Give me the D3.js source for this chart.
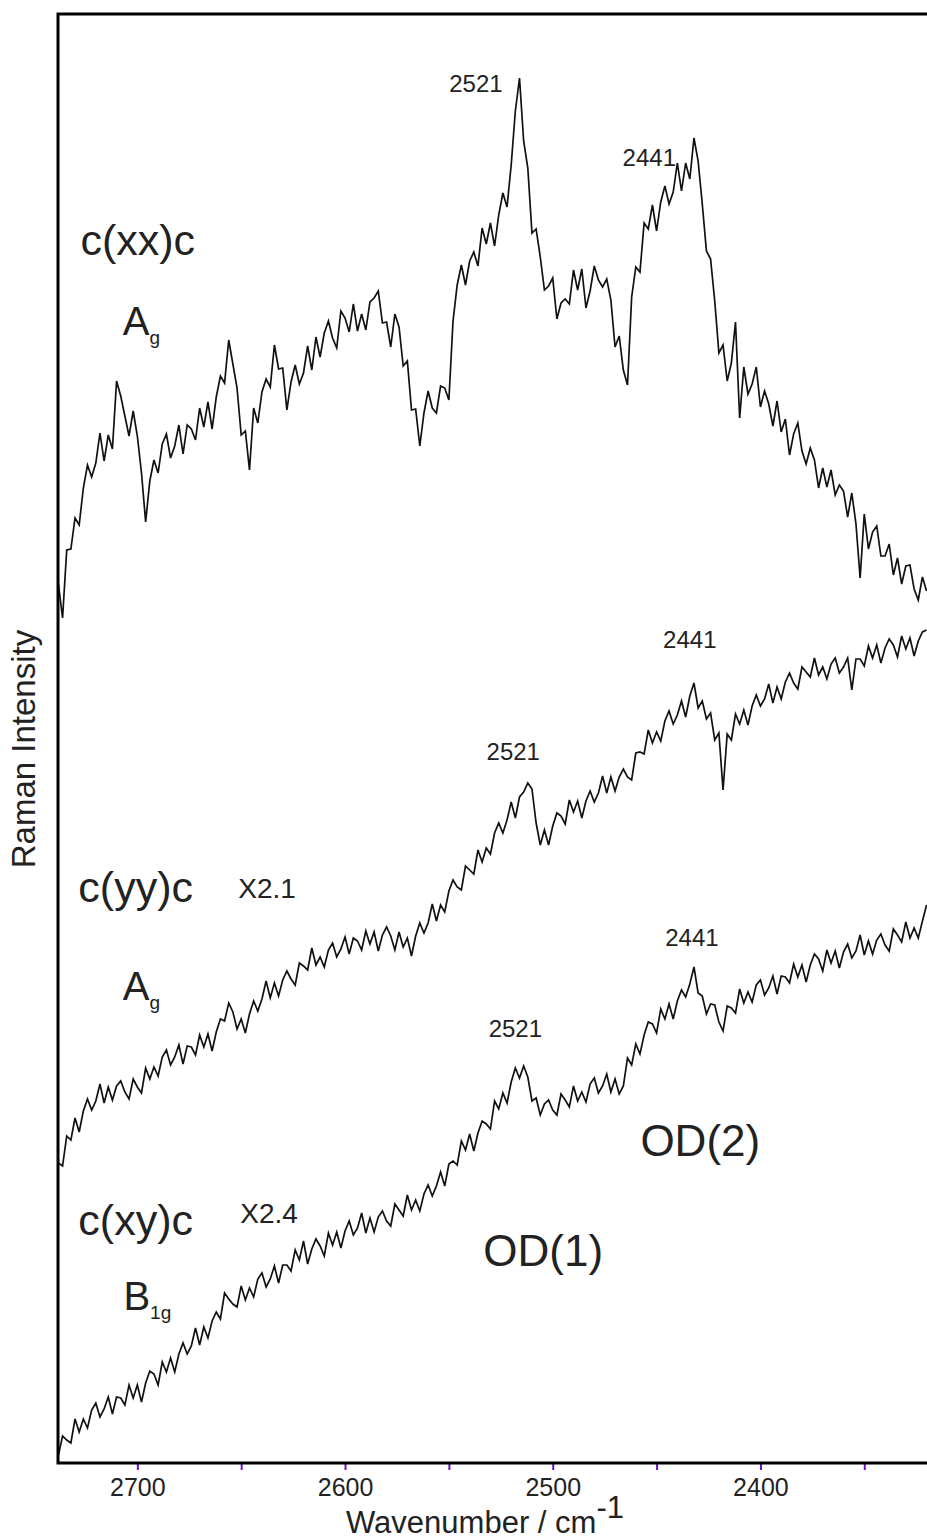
<!DOCTYPE html>
<html>
<head>
<meta charset="utf-8">
<script src="https://cdn.jsdelivr.net/npm/d3@7"></script>
<style>
  body { margin: 0; background: #fff; }
  svg { display: block; font-family: "Liberation Sans", Arial, Helvetica, sans-serif; }
</style>
</head>
<body>
<svg id="chart"></svg>
<script>
// Wavenumber grid (cm-1), high to low as in the spectrum
const wavenumbers = [
  2738, 2736, 2734, 2732, 2730, 2728, 2726, 2724, 2722, 2720,
  2718, 2716, 2714, 2712, 2710, 2708, 2706, 2704, 2702, 2700,
  2698, 2696, 2694, 2692, 2690, 2688, 2686, 2684, 2682, 2680,
  2678, 2676, 2674, 2672, 2670, 2668, 2666, 2664, 2662, 2660,
  2658, 2656, 2654, 2652, 2650, 2648, 2646, 2644, 2642, 2640,
  2638, 2636, 2634, 2632, 2630, 2628, 2626, 2624, 2622, 2620,
  2618, 2616, 2614, 2612, 2610, 2608, 2606, 2604, 2602, 2600,
  2598, 2596, 2594, 2592, 2590, 2588, 2586, 2584, 2582, 2580,
  2578, 2576, 2574, 2572, 2570, 2568, 2566, 2564, 2562, 2560,
  2558, 2556, 2554, 2552, 2550, 2548, 2546, 2544, 2542, 2540,
  2538, 2536, 2534, 2532, 2530, 2528, 2526, 2524, 2522, 2520,
  2518, 2516, 2514, 2512, 2510, 2508, 2506, 2504, 2502, 2500,
  2498, 2496, 2494, 2492, 2490, 2488, 2486, 2484, 2482, 2480,
  2478, 2476, 2474, 2472, 2470, 2468, 2466, 2464, 2462, 2460,
  2458, 2456, 2454, 2452, 2450, 2448, 2446, 2444, 2442, 2440,
  2438, 2436, 2434, 2432, 2430, 2428, 2426, 2424, 2422, 2420,
  2418, 2416, 2414, 2412, 2410, 2408, 2406, 2404, 2402, 2400,
  2398, 2396, 2394, 2392, 2390, 2388, 2386, 2384, 2382, 2380,
  2378, 2376, 2374, 2372, 2370, 2368, 2366, 2364, 2362, 2360,
  2358, 2356, 2354, 2352, 2350, 2348, 2346, 2344, 2342, 2340,
  2338, 2336, 2334, 2332, 2330, 2328, 2326, 2324, 2322, 2320
];

// c(xx)c, Ag  (offset, arbitrary units)
const xxIntensity = [
  879, 845, 913, 914, 945, 938, 975, 998, 986, 1000,
  1030, 1002, 1028, 1014, 1082, 1067, 1047, 1027, 1052, 1027,
  990, 941, 982, 1003, 990, 1019, 1029, 1005, 1017, 1038,
  1009, 1038, 1034, 1023, 1055, 1036, 1061, 1034, 1066, 1087,
  1080, 1123, 1099, 1075, 1028, 1032, 993, 1055, 1040, 1071,
  1084, 1076, 1118, 1094, 1095, 1053, 1081, 1098, 1079, 1090,
  1117, 1093, 1126, 1106, 1130, 1142, 1125, 1115, 1152, 1145,
  1131, 1159, 1132, 1149, 1133, 1161, 1165, 1172, 1140, 1141,
  1116, 1149, 1136, 1097, 1102, 1053, 1054, 1017, 1050, 1072,
  1055, 1050, 1077, 1075, 1063, 1142, 1178, 1198, 1178, 1202,
  1211, 1197, 1235, 1219, 1240, 1217, 1248, 1270, 1256, 1298,
  1352, 1385, 1322, 1295, 1230, 1234, 1206, 1173, 1177, 1185,
  1144, 1160, 1164, 1159, 1193, 1173, 1194, 1155, 1172, 1197,
  1183, 1176, 1184, 1163, 1116, 1127, 1093, 1078, 1166, 1196,
  1191, 1240, 1234, 1258, 1232, 1261, 1277, 1259, 1271, 1300,
  1272, 1300, 1284, 1325, 1302, 1259, 1212, 1204, 1162, 1110,
  1118, 1082, 1100, 1141, 1045, 1096, 1069, 1079, 1096, 1056,
  1072, 1059, 1037, 1062, 1031, 1044, 1008, 1029, 1040, 1012,
  999, 1015, 1003, 975, 995, 976, 993, 968, 978, 972,
  946, 970, 939, 885, 949, 914, 931, 937, 907, 907,
  919, 888, 905, 879, 897, 898, 874, 863, 886, 872
];

// c(yy)c, Ag, x2.1
const yyIntensity = [
  300, 297, 327, 323, 345, 331, 352, 364, 353, 362,
  379, 360, 376, 363, 377, 382, 371, 364, 384, 376,
  370, 395, 384, 396, 387, 406, 413, 398, 406, 418,
  399, 417, 416, 408, 428, 416, 429, 412, 431, 444,
  442, 460, 451, 434, 444, 430, 449, 462, 452, 464,
  482, 465, 480, 467, 483, 492, 484, 478, 500, 497,
  493, 515, 498, 506, 496, 513, 520, 506, 514, 526,
  509, 525, 522, 513, 532, 519, 531, 512, 528, 536,
  527, 513, 531, 516, 525, 507, 527, 540, 530, 540,
  559, 542, 558, 551, 572, 583, 576, 573, 597, 593,
  589, 613, 601, 615, 609, 630, 640, 630, 643, 661,
  645, 666, 671, 680, 674, 640, 618, 633, 618, 637,
  650, 647, 639, 663, 651, 662, 645, 662, 672, 661,
  670, 687, 670, 686, 672, 686, 694, 686, 683, 710,
  711, 709, 733, 720, 731, 722, 742, 752, 739, 748,
  762, 746, 767, 780, 755, 762, 744, 750, 723, 730,
  673, 729, 723, 749, 739, 753, 738, 757, 768, 757,
  764, 779, 760, 776, 764, 781, 790, 780, 774, 796,
  791, 786, 805, 788, 796, 784, 799, 805, 790, 796,
  805, 773, 804, 804, 797, 817, 805, 818, 800, 815,
  824, 818, 806, 827, 814, 825, 807, 822, 831, 833
];

// c(xy)c, B1g, x2.4
const xyIntensity = [
  8, 27, 23, 20, 44, 31, 44, 35, 53, 60,
  46, 54, 66, 49, 66, 65, 58, 78, 65, 78,
  61, 80, 92, 89, 78, 101, 91, 105, 91, 109,
  120, 109, 117, 135, 118, 136, 125, 142, 151, 144,
  170, 164, 159, 156, 177, 163, 175, 166, 184, 190,
  176, 184, 197, 180, 198, 198, 192, 213, 203, 222,
  199, 214, 224, 217, 207, 230, 218, 231, 215, 232,
  242, 228, 235, 250, 230, 245, 231, 246, 252, 242,
  237, 259, 253, 247, 268, 253, 263, 252, 269, 278,
  267, 277, 291, 277, 299, 302, 298, 322, 313, 329,
  312, 330, 342, 339, 334, 362, 354, 370, 360, 381,
  395, 385, 397, 386, 362, 365, 348, 359, 363, 353,
  348, 369, 363, 356, 377, 362, 371, 361, 379, 385,
  370, 377, 389, 371, 384, 369, 377, 405, 398, 419,
  409, 428, 441, 439, 430, 454, 444, 459, 444, 462,
  473, 466, 479, 496, 470, 467, 449, 459, 458, 441,
  432, 457, 455, 450, 474, 460, 471, 461, 478, 483,
  468, 475, 487, 469, 487, 486, 480, 499, 486, 498,
  481, 498, 509, 504, 492, 513, 500, 512, 495, 511,
  519, 505, 512, 528, 508, 522, 509, 523, 529, 518,
  512, 534, 528, 521, 541, 525, 535, 525, 542, 558
];

const seriesList = [xxIntensity, yyIntensity, xyIntensity];

const majorTicks = [2700, 2600, 2500, 2400];
const minorTicks = [2650, 2550, 2450, 2350];

const width = 927, height = 1540;
const plot = { left: 58, top: 14, right: 927, bottom: 1463 };

const svg = d3.select("#chart").attr("width", width).attr("height", height);

const x = d3.scaleLinear().domain([2738.2, 2319.8]).range([plot.left, plot.right]);
const y = d3.scaleLinear().domain([0, 1449]).range([plot.bottom, plot.top]);

svg.append("defs").append("clipPath").attr("id", "clip")
  .append("rect")
  .attr("x", plot.left).attr("y", plot.top)
  .attr("width", plot.right - plot.left).attr("height", plot.bottom - plot.top);

// spectra
const line = d3.line()
  .x((d, i) => x(wavenumbers[i]))
  .y(d => y(d));

svg.append("g").attr("clip-path", "url(#clip)")
  .selectAll("path")
  .data(seriesList)
  .enter().append("path")
  .attr("d", d => line(d))
  .attr("fill", "none")
  .attr("stroke", "#111")
  .attr("stroke-width", 1.7)
  .attr("stroke-linejoin", "miter");

// x axis ticks (purple) + labels
const xAxis = d3.axisBottom(x)
  .tickValues(majorTicks.concat(minorTicks))
  .tickSize(7)
  .tickPadding(8)
  .tickFormat(d => majorTicks.includes(d) ? d : "");

const axisG = svg.append("g")
  .attr("transform", `translate(0, ${plot.bottom})`)
  .call(xAxis);
axisG.select(".domain").remove();
axisG.selectAll(".tick line").attr("stroke", "#6a0fc8").attr("stroke-width", 2);
axisG.selectAll(".tick text")
  .attr("fill", "#222")
  .style("font-size", "25px")
  .style("font-family", "'Liberation Sans', Arial, sans-serif");

// frame (right edge lies outside the picture)
svg.append("path")
  .attr("d", `M${plot.right + 5},${plot.top}H${plot.left}V${plot.bottom}H${plot.right + 5}`)
  .attr("fill", "none")
  .attr("stroke", "#000")
  .attr("stroke-width", 3);

// axis titles
const xTitle = svg.append("text")
  .attr("x", 485)
  .attr("y", 1533)
  .attr("text-anchor", "middle")
  .attr("fill", "#222")
  .style("font-size", "31px");
xTitle.append("tspan").text("Wavenumber / cm");
xTitle.append("tspan").attr("dy", -15).style("font-size", "31px").text("-1");

svg.append("text")
  .attr("transform", "translate(35, 749) rotate(-90)")
  .attr("text-anchor", "middle")
  .attr("fill", "#222")
  .style("font-size", "33px")
  .text("Raman Intensity");

// labels placed in data coordinates
const g = svg.append("g").attr("fill", "#222");

function label(wn, val, size, parts, anchor) {
  const t = g.append("text")
    .attr("x", x(wn))
    .attr("y", y(val))
    .attr("text-anchor", anchor || "start")
    .style("font-size", size + "px");
  parts.forEach(p => {
    const s = t.append("tspan").text(p.text);
    if (p.sub) s.style("font-size", p.sub + "px").attr("dy", p.dy);
  });
  return t;
}

// polarisation labels
label(2727.4, 1208, 43, [{ text: "c(xx)c" }]);
label(2707.0, 1128, 40, [{ text: "A" }, { text: "g", sub: 19, dy: 9 }]);
label(2728.4, 561, 43, [{ text: "c(yy)c" }]);
label(2651.4, 565, 28, [{ text: "X2.1" }]);
label(2707.0, 463, 40, [{ text: "A" }, { text: "g", sub: 19, dy: 9 }]);
label(2728.4, 228, 43, [{ text: "c(xy)c" }]);
label(2650.4, 240, 28, [{ text: "X2.4" }]);
label(2706.7, 153, 40, [{ text: "B" }, { text: "1g", sub: 19, dy: 9 }]);
label(2533.4, 197, 44, [{ text: "OD(1)" }]);
label(2457.8, 307, 44, [{ text: "OD(2)" }]);

// peak labels
label(2537, 1371, 24, [{ text: "2521" }], "middle");
label(2453.5, 1297, 24, [{ text: "2441" }], "middle");
label(2434, 815, 24, [{ text: "2441" }], "middle");
label(2519, 703, 24, [{ text: "2521" }], "middle");
label(2433, 517, 24, [{ text: "2441" }], "middle");
label(2518, 426, 24, [{ text: "2521" }], "middle");
</script>
</body>
</html>
